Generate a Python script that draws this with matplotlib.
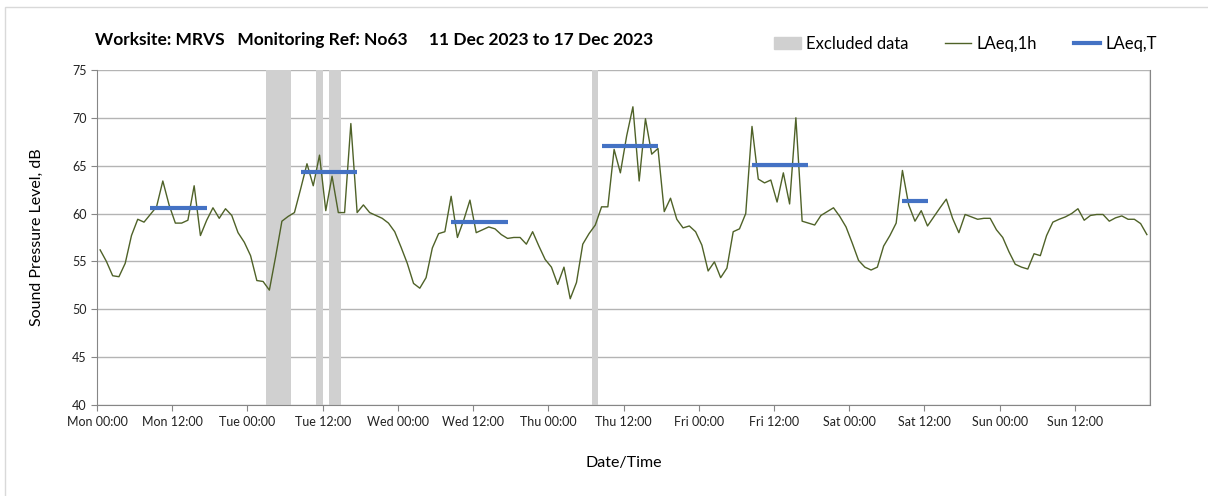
import matplotlib.pyplot as plt
from matplotlib.patches import Rectangle, Patch
from matplotlib.lines import Line2D

plt.rcParams['font.family'] = ['Lato', 'DejaVu Sans']

# hourly LAeq,1h values, Mon 00:00 to Sun 23:00
laeq_1h = [
    56.2, 55.0, 53.5, 53.4, 54.8, 57.7, 59.4, 59.1, 59.9, 60.7, 63.4, 60.9,
    59.0, 59.0, 59.3, 62.9, 57.7, 59.3, 60.6, 59.5, 60.5, 59.8, 58.0, 57.0,
    55.6, 53.0, 52.9, 52.0, 55.5, 59.2, 59.7, 60.1, 62.6, 65.2, 62.9, 66.1,
    60.3, 63.9, 60.1, 60.1, 69.4, 60.1, 60.9, 60.1, 59.8, 59.5, 59.0, 58.1,
    56.5, 54.8, 52.7, 52.2, 53.3, 56.4, 57.9, 58.1, 61.8, 57.5, 59.3, 61.4,
    58.0, 58.3, 58.6, 58.4, 57.8, 57.4, 57.5, 57.5, 56.8, 58.1, 56.6, 55.2,
    54.4, 52.6, 54.4, 51.1, 52.8, 56.8, 57.9, 58.8, 60.7, 60.7, 66.7, 64.25,
    68.1, 71.15, 63.4, 69.9, 66.2, 66.8, 60.2, 61.6, 59.4, 58.5, 58.7, 58.1,
    56.7, 54.0, 54.95, 53.3, 54.3, 58.1, 58.4, 60.0, 69.1, 63.6, 63.2, 63.5,
    61.2, 64.25, 61.0, 70.0, 59.2, 59.0, 58.8, 59.8, 60.2, 60.6, 59.7, 58.6,
    56.9, 55.1, 54.4, 54.1, 54.4, 56.6, 57.7, 59.0, 64.5, 60.9, 59.2, 60.3,
    58.7, 59.65, 60.6, 61.5, 59.5, 58.0, 59.9, 59.65, 59.4, 59.5, 59.5, 58.3,
    57.5, 56.0, 54.7, 54.4, 54.2, 55.8, 55.6, 57.7, 59.1, 59.4, 59.65, 60.0,
    60.5, 59.3, 59.8, 59.9, 59.9, 59.2, 59.55, 59.75, 59.4, 59.4, 58.95, 57.8,
]

# LAeq,T periods: (first hour index, last hour index, level)
laeq_t_periods = [
    (8, 17, 60.55),
    (32, 41, 64.3),
    (56, 65, 59.1),
    (80, 89, 67.05),
    (104, 113, 65.05),
    (128, 132, 61.3),
]

# excluded data spans in hours from Mon 00:00
excluded = [(27, 31), (35, 36), (37, 39), (79, 80)]

days = ['Mon', 'Tue', 'Wed', 'Thu', 'Fri', 'Sat', 'Sun']
tick_labels = [f'{d} {t}' for d in days for t in ('00:00', '12:00')]

fig = plt.figure(figsize=(12.08, 4.96), dpi=100)
fig.patches.append(Rectangle((0.004, -0.01), 1.0, 0.996, transform=fig.transFigure,
                             fill=False, edgecolor='#d9d9d9', linewidth=1))
ax = fig.add_axes([0.0803, 0.1835, 0.8717, 0.6755])

hours = [i + 0.5 for i in range(len(laeq_1h))]

for a, b in excluded:
    ax.axvspan(a, b, color='#d0d0d0', linewidth=0, zorder=1)

ax.plot(hours, laeq_1h, color='#4f6228', linewidth=1.0, zorder=3)
for a, b, v in laeq_t_periods:
    ax.plot([a + 0.5, b + 0.5], [v, v], color='#4472c4', linewidth=3,
            solid_capstyle='butt', zorder=4)

ax.set_xlim(0, 168)
ax.set_ylim(40, 75)
ax.set_yticks(range(40, 76, 5))
ax.set_xticks(range(0, 168, 12))
ax.set_xticklabels(tick_labels)
ax.set_xticks(range(0, 169, 24), minor=True)

ax.grid(axis='y', color='#b4b4b4', linewidth=1, zorder=0)
ax.grid(axis='x', which='minor', color='#e4e4e4', linewidth=1.5, zorder=0)
ax.set_axisbelow(True)

ax.tick_params(axis='both', labelsize=9, color='#868686', length=4, colors='#222222')
ax.tick_params(axis='x', which='minor', length=0)
ax.tick_params(axis='x', which='major', pad=4)
for s in ['left', 'bottom', 'right']:
    ax.spines[s].set_color('#868686')
ax.spines['top'].set_visible(False)

ax.set_ylabel('Sound Pressure Level, dB', fontsize=11.5, labelpad=20)
ax.set_xlabel('Date/Time', fontsize=11.5, labelpad=20)

fig.text(0.079, 0.92, 'Worksite: MRVS   Monitoring Ref: No63     11 Dec 2023 to 17 Dec 2023',
         fontsize=12.5, fontweight='bold', va='center')

handles = [Patch(color='#d0d0d0'),
           Line2D([], [], color='#4f6228', linewidth=1.0),
           Line2D([], [], color='#4472c4', linewidth=3)]
fig.legend(handles, ['Excluded data', 'LAeq,1h', 'LAeq,T'], loc='center right',
           bbox_to_anchor=(0.97, 0.912), ncol=3, frameon=False, fontsize=12,
           handlelength=1.6, handletextpad=0.3, columnspacing=2.2)

fig.savefig('out.png', dpi=100)
